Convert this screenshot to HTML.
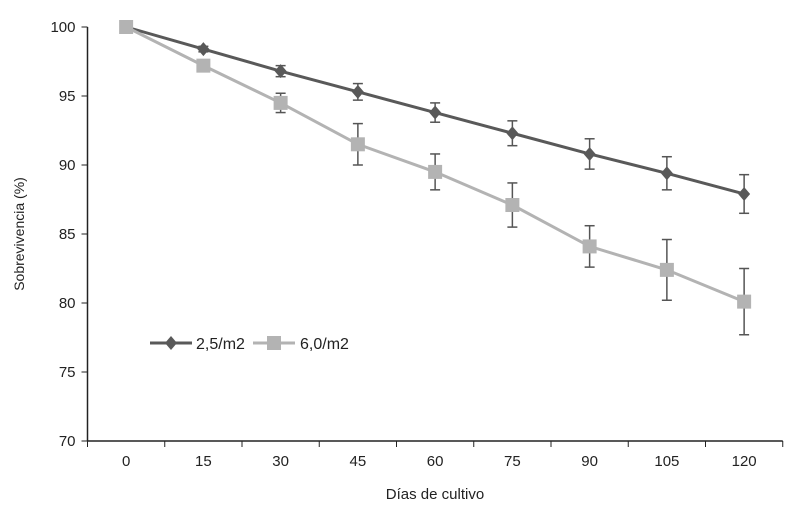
<!DOCTYPE html>
<html><head><meta charset="utf-8"><style>
body{margin:0;background:#fff;font-family:"Liberation Sans",sans-serif;}
text{font-family:"Liberation Sans",sans-serif;fill:#222;}
</style></head><body>
<svg id="chart" width="797" height="511" xmlns="http://www.w3.org/2000/svg">
<rect width="797" height="511" fill="#fff"/>
<g id="axes"></g><g id="series"></g>
<text x="24" y="234" font-size="14" text-anchor="middle" transform="rotate(-90 24 234)">Sobrevivencia (%)</text>
<text x="435" y="499" font-size="15" text-anchor="middle">Días de cultivo</text>
<g>
<g>
<line x1="150" y1="343" x2="192" y2="343" stroke="#595959" stroke-width="3"/>
<path d="M171 336 L177 343 L171 350 L165 343 Z" fill="#595959"/>
<text x="196" y="349" font-size="16">2,5/m2</text></g>
<g>
<line x1="253" y1="343" x2="295" y2="343" stroke="#b3b3b3" stroke-width="3"/>
<rect x="267" y="336" width="14" height="14" fill="#b3b3b3"/>
<text x="300" y="349" font-size="16">6,0/m2</text></g>
</g>
</svg>
<script>
const categories=[0,15,30,45,60,75,90,105,120];
const yTicks=[70,75,80,85,90,95,100];
const s1=[100,98.4,96.8,95.3,93.8,92.3,90.8,89.4,87.9];
const s1err=[0,0.2,0.4,0.6,0.7,0.9,1.1,1.2,1.4];
const s2=[100,97.2,94.5,91.5,89.5,87.1,84.1,82.4,80.1];
const s2err=[0,0.2,0.7,1.5,1.3,1.6,1.5,2.2,2.4];
const NS="http://www.w3.org/2000/svg";
const X0=87.5,CW=77.25,Y70=441,PU=13.8;
const xs=i=>X0+CW*(i+0.5);
const ys=v=>Y70-(v-70)*PU;
function mk(t,a,p){const e=document.createElementNS(NS,t);for(const k in a)e.setAttribute(k,a[k]);p.appendChild(e);return e;}
const ax=document.getElementById('axes');
const yl=mk('line',{x1:X0,y1:ys(100),x2:X0,y2:Y70,stroke:'#222','stroke-width':1.5},ax);


const xl=mk('line',{x1:X0,y1:Y70,x2:X0+CW*categories.length,y2:Y70,stroke:'#222','stroke-width':1.5},ax);


yTicks.forEach(v=>{
mk('line',{x1:X0-6,y1:ys(v),x2:X0,y2:ys(v),stroke:'#222'},ax);
const t=mk('text',{x:X0-12,y:ys(v)+5,'font-size':15,'text-anchor':'end'},ax);t.textContent=v;


});
for(let i=0;i<=categories.length;i++)mk('line',{x1:X0+CW*i,y1:Y70,x2:X0+CW*i,y2:Y70+6,stroke:'#222'},ax);
categories.forEach((c,i)=>{
const t=mk('text',{x:xs(i),y:Y70+25,'font-size':15,'text-anchor':'middle'},ax);t.textContent=c;


});
const sg=document.getElementById('series');
function draw(vals,errs,color,shape,name){
const g=mk('g',{},sg);


mk('polyline',{points:vals.map((v,i)=>xs(i)+','+ys(v)).join(' '),fill:'none',stroke:color,'stroke-width':3},g);
vals.forEach((v,i)=>{
const e=errs[i];
if(e>0){
mk('line',{x1:xs(i),y1:ys(v+e),x2:xs(i),y2:ys(v-e),stroke:'#555','stroke-width':1.5},g);
mk('line',{x1:xs(i)-5,y1:ys(v+e),x2:xs(i)+5,y2:ys(v+e),stroke:'#555','stroke-width':1.5},g);
mk('line',{x1:xs(i)-5,y1:ys(v-e),x2:xs(i)+5,y2:ys(v-e),stroke:'#555','stroke-width':1.5},g);
}
let m;
if(shape==='d')m=mk('path',{d:`M${xs(i)} ${ys(v)-7} L${xs(i)+6} ${ys(v)} L${xs(i)} ${ys(v)+7} L${xs(i)-6} ${ys(v)} Z`,fill:color},g);
else m=mk('rect',{x:xs(i)-7,y:ys(v)-7,width:14,height:14,fill:color},g);


});
}
draw(s1,s1err,'#595959','d','series-2-5');
draw(s2,s2err,'#b3b3b3','s','series-6-0');
</script>
</body></html>
